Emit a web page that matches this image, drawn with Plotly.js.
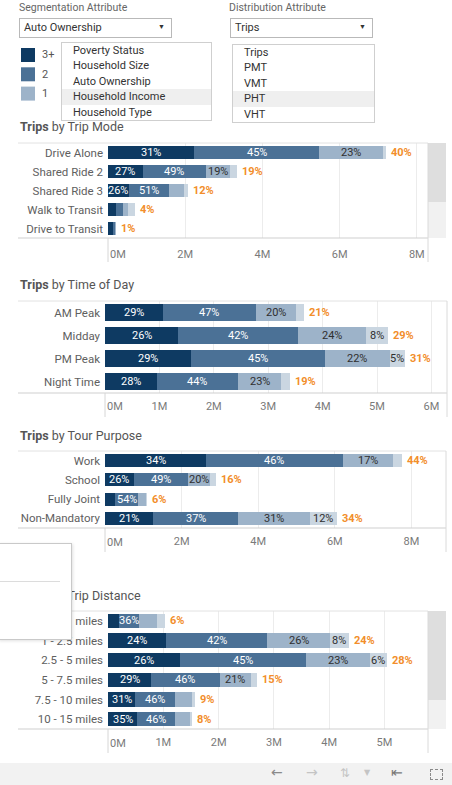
<!DOCTYPE html>
<html><head><meta charset="utf-8">
<script src="https://cdn.plot.ly/plotly-3.0.1.min.js"></script>
<style>
html,body{margin:0;padding:0;background:#fff;overflow:hidden;}
#wrap{position:relative;width:452px;height:785px;font-family:Roboto,sans-serif;}
#chart{position:absolute;left:0;top:0;width:452px;height:785px;}
.ov{position:absolute;font-family:Roboto,sans-serif;font-size:11px;color:#333;box-sizing:border-box;white-space:nowrap;}
.lbl{color:#666;font-size:10.5px;}
.box{border:1px solid #b9b9b9;background:#fff;line-height:17px;padding-left:4px;}
.arr{position:absolute;right:6px;top:0;font-size:7px;color:#333;}
.list{border:1px solid #cfcfcf;background:#fff;}
.item{height:15.4px;line-height:15.4px;padding-left:11px;}
.hl{background:#efefef;}
.tb{position:absolute;font-family:"DejaVu Sans",sans-serif;}
</style></head><body>
<div id="wrap">
<div id="chart"></div>

<div class="ov lbl" style="left:19px;top:1px;">Segmentation Attribute</div>
<div class="ov box" style="left:19px;top:18px;width:153px;height:20px;">Auto Ownership<span class="arr">&#9660;</span></div>
<div class="ov list" style="left:61px;top:42px;width:151px;height:79px;">
  <div class="item">Poverty Status</div>
  <div class="item">Household Size</div>
  <div class="item">Auto Ownership</div>
  <div class="item hl">Household Income</div>
  <div class="item">Household Type</div>
</div>

<div class="ov lbl" style="left:229px;top:1px;">Distribution Attribute</div>
<div class="ov box" style="left:230px;top:18px;width:143px;height:20px;">Trips<span class="arr">&#9660;</span></div>
<div class="ov list" style="left:232px;top:44px;width:143px;height:79px;">
  <div class="item">Trips</div>
  <div class="item">PMT</div>
  <div class="item">VMT</div>
  <div class="item hl">PHT</div>
  <div class="item">VHT</div>
</div>

<div class="ov" style="left:-2px;top:543px;width:74px;height:97px;background:#fff;border:1px solid #c9c9c9;box-shadow:1px 1px 3px rgba(0,0,0,0.12);"></div>
<div class="ov" style="left:0px;top:581px;width:60px;height:1px;background:#dcdcdc;"></div>

<div class="ov" style="left:0;top:763px;width:452px;height:22px;background:#f2f2f2;"></div>
<div class="tb" style="left:271px;top:764px;font-size:14px;color:#8a8a8a;">&#8592;</div>
<div class="tb" style="left:306px;top:764px;font-size:14px;color:#c4c4c4;">&#8594;</div>
<div class="tb" style="left:340px;top:766px;font-size:12px;color:#c4c4c4;">&#8645;</div>
<div class="tb" style="left:364px;top:768px;font-size:8px;color:#c4c4c4;">&#9660;</div>
<div class="tb" style="left:391px;top:764px;font-size:14px;color:#7a7a7a;">&#8676;</div>
<div class="ov" style="left:430px;top:769px;width:13px;height:11px;border:1px dashed #8a8a8a;"></div>
</div>

<script>
// ---------- DATA (values in millions of trips) ----------
const segNames = ['3+', '2', '1', '0'];
const legendNames = ['3+', '2', '1'];

const modeCats   = ['Drive Alone', 'Shared Ride 2', 'Shared Ride 3', 'Walk to Transit', 'Drive to Transit'];
const mode3p     = [2.23, 0.90, 0.54, 0.21, 0.13];
const mode2      = [3.24, 1.63, 1.05, 0.17, 0.05];
const mode1      = [1.66, 0.63, 0.37, 0.14, 0.02];
const mode0      = [0.07, 0.17, 0.10, 0.18, 0.01];
const modeShare  = [40, 19, 12, 4, 1];

const todCats    = ['AM Peak', 'Midday', 'PM Peak', 'Night Time'];
const tod3p      = [1.06, 1.35, 1.58, 0.95];
const tod2       = [1.72, 2.19, 2.46, 1.50];
const tod1       = [0.73, 1.25, 1.20, 0.78];
const tod0       = [0.15, 0.42, 0.27, 0.17];
const todShare   = [21, 29, 31, 19];

const purpCats   = ['Work', 'School', 'Fully Joint', 'Non-Mandatory'];
const purp3p     = [2.64, 0.75, 0.27, 1.26];
const purp2      = [3.57, 1.41, 0.59, 2.22];
const purp1      = [1.32, 0.58, 0.22, 1.86];
const purp0      = [0.23, 0.15, 0.02, 0.72];
const purpShare  = [44, 16, 6, 34];

const distCats   = ['0 - 1 miles', '1 - 2.5 miles', '2.5 - 5 miles', '5 - 7.5 miles', '7.5 - 10 miles', '10 - 15 miles'];
const dist3p     = [0.19, 1.05, 1.31, 0.78, 0.49, 0.53];
const dist2      = [0.37, 1.83, 2.27, 1.24, 0.72, 0.69];
const dist1      = [0.33, 1.13, 1.16, 0.57, 0.31, 0.27];
const dist0      = [0.14, 0.35, 0.30, 0.11, 0.05, 0.02];
const distShare  = [6, 24, 28, 15, 9, 8];

// ---------- STYLE / LAYOUT ----------
const W = 452, H = 785;
const X = p => p / W;
const Y = p => 1 - p / H;
const segColors = ['#0e3a62', '#4b7196', '#9db3c9', '#cad6e1'];
const segText = ['#ffffff', '#ffffff', '#2f2f2f', '#2f2f2f'];
const FONT = 'Roboto, sans-serif';

const panels = [
  {title: 'Trip Mode', cats: modeCats, series: [mode3p, mode2, mode1, mode0], share: modeShare,
   x0: 108, x1: 428, y0: 143, y1: 238, ppm: 38.6, ticks: [2, 4, 6, 8], w: 0.72, titleY: 127, tickY: 255, standoff: 8,
   scroll: [202]},
  {title: 'Time of Day', cats: todCats, series: [tod3p, tod2, tod1, tod0], share: todShare,
   x0: 105, x1: 447, y0: 301, y1: 393, ppm: 54.4, ticks: [1, 2, 3, 4, 5, 6], w: 0.74, titleY: 285, tickY: 406, standoff: 5},
  {title: 'Tour Purpose', cats: purpCats, series: [purp3p, purp2, purp1, purp0], share: purpShare,
   x0: 105, x1: 446, y0: 451, y1: 528, ppm: 38.3, ticks: [2, 4, 6, 8], w: 0.68, titleY: 435, tickY: 542, standoff: 5},
  {title: 'Trip Distance', cats: distCats, series: [dist3p, dist2, dist1, dist0], share: distShare,
   x0: 108, x1: 428, y0: 611, y1: 729, ppm: 55.3, ticks: [1, 2, 3, 4, 5], w: 0.72, titleY: 595, tickY: 743, standoff: 5,
   scroll: [700]}
];

const traces = [];
const annotations = [];
const shapes = [];
const layout = {
  width: W, height: H, margin: {l: 0, r: 0, t: 0, b: 0},
  paper_bgcolor: '#fff', plot_bgcolor: 'rgba(0,0,0,0)',
  barmode: 'stack', font: {family: FONT, color: '#555'},
  showlegend: false,
  annotations: annotations, shapes: shapes
};

const line = (x0, y0, x1, y1, c) => shapes.push({type: 'line', xref: 'paper', yref: 'paper',
  x0: X(x0), x1: X(x1), y0: Y(y0), y1: Y(y1), line: {color: c || '#d0d0d0', width: 1}, layer: 'above'});
const rect = (x0, y0, x1, y1, c, layer) => shapes.push({type: 'rect', xref: 'paper', yref: 'paper',
  x0: X(x0), x1: X(x1), y0: Y(y0), y1: Y(y1), fillcolor: c, line: {width: 0}, layer: layer || 'below'});

// colour legend (top-left)
legendNames.forEach((nm, j) => {
  const top = 48 + j * 19.3;
  rect(21, top, 35, top + 14, segColors[j], 'above');
  annotations.push({xref: 'paper', yref: 'paper', x: X(40), y: Y(top + 7), xanchor: 'left', yanchor: 'middle',
    showarrow: false, text: nm, font: {size: 11, color: '#555', family: FONT}});
});

panels.forEach((p, k) => {
  const n = k + 1;
  const xa = 'x' + (n === 1 ? '' : n), ya = 'y' + (n === 1 ? '' : n);
  const xmax = (p.x1 - p.x0) / p.ppm;
  layout['xaxis' + (n === 1 ? '' : n)] = {
    domain: [X(p.x0), X(p.x1)], anchor: ya, range: [0, xmax], fixedrange: true,
    tickvals: p.ticks, ticktext: p.ticks.map(t => t + 'M'), ticks: '', showline: false, zeroline: false,
    showgrid: true, gridcolor: '#ececec', gridwidth: 1,
    tickfont: {size: 11, color: '#7a7a7a', family: FONT}, ticklabelstandoff: p.standoff
  };
  layout['yaxis' + (n === 1 ? '' : n)] = {
    domain: [Y(p.y1), Y(p.y0)], anchor: xa, type: 'category', categoryarray: p.cats,
    range: [p.cats.length - 0.5, -0.5], fixedrange: true, showgrid: false, zeroline: false,
    showline: false, ticks: '', tickfont: {size: 11.5, color: '#606060', family: FONT}, ticklabelstandoff: 4
  };
  const totals = p.cats.map((c, i) => p.series.reduce((a, s) => a + s[i], 0));
  p.series.forEach((s, j) => {
    traces.push({type: 'bar', orientation: 'h', y: p.cats, x: s, xaxis: xa, yaxis: ya,
      name: segNames[j], width: p.w, marker: {color: segColors[j], line: {width: 0}},
      showlegend: false, hoverinfo: 'skip'});
    const cum = p.cats.map((c, i) => p.series.slice(0, j).reduce((a, t) => a + t[i], 0));
    s.forEach((v, i) => {
      const txt = Math.round(v / totals[i] * 100) + '%';
      if (v * p.ppm >= txt.length * 6.5) {
        annotations.push({xref: xa, yref: ya, x: cum[i] + v / 2, y: p.cats[i], text: txt, showarrow: false,
          font: {size: 11, color: segText[j], family: FONT}, xanchor: 'center', yanchor: 'middle'});
      }
    });
  });
  totals.forEach((t, i) => annotations.push({xref: xa, yref: ya, x: t, y: p.cats[i], text: '<b>' + p.share[i] + '%</b>',
    showarrow: false, xanchor: 'left', xshift: 3, yanchor: 'middle', font: {size: 11, color: '#f28e2b', family: FONT}}));
  // "0M" label left-aligned at origin
  annotations.push({xref: xa, yref: 'paper', x: 0, y: Y(p.tickY), text: '0M', showarrow: false, xanchor: 'left',
    yanchor: 'middle', xshift: 0, font: {size: 11, color: '#7a7a7a', family: FONT}});
  // title
  annotations.push({xref: 'paper', yref: 'paper', x: X(18), y: Y(p.titleY), xanchor: 'left', yanchor: 'middle',
    showarrow: false, text: '<b>Trips</b> by ' + p.title, font: {size: 12.5, color: '#555', family: FONT}});
  // frame lines
  line(18, p.y0, p.x1, p.y0, '#e2e2e2');
  line(18, p.y1, p.x1, p.y1, '#cfcfcf');
  line(p.x0, p.y1, p.x0, p.y1 + 24, '#d6d6d6');
  line(p.x1, p.y0, p.x1, p.y1 + 24, '#dadada');
  if (p.scroll) {
    rect(p.x1, p.y0, 446, p.scroll[0], '#dedede');
    rect(p.x1, p.scroll[0], 446, p.y1, '#f1f1f1');
  }
});

Plotly.newPlot('chart', traces, layout, {displayModeBar: false, staticPlot: true});
</script>
</body></html>
